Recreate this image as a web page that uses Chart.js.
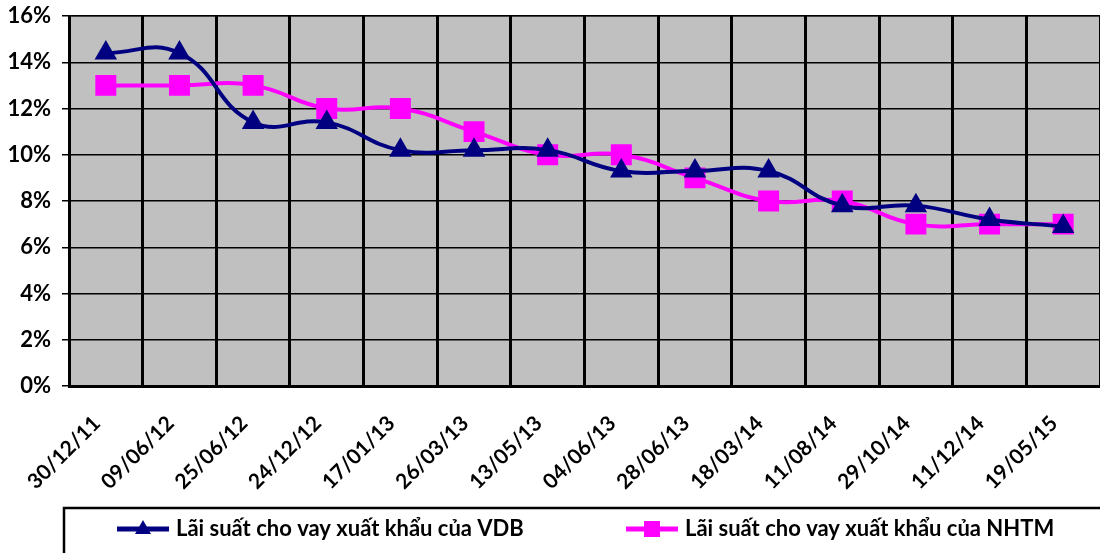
<!DOCTYPE html>
<html><head><meta charset="utf-8">
<script src="https://cdn.jsdelivr.net/npm/chart.js@4"></script>
<style>html,body{margin:0;padding:0;background:#fff;overflow:hidden}#w{width:1100px;height:553px}</style>
</head><body><div id="w"><canvas id="c"></canvas></div>
<script>
const categories = ["30/12/11","09/06/12","25/06/12","24/12/12","17/01/13","26/03/13","13/05/13","04/06/13","28/06/13","18/03/14","11/08/14","29/10/14","11/12/14","19/05/15"];
const vdb = [14.4,14.4,11.4,11.4,10.2,10.2,10.2,9.3,9.3,9.3,7.8,7.8,7.2,6.9];
const nhtm = [13,13,13,12,12,11,10,10,9,8,8,7,7,7];
const seriesNames = ["Lãi suất cho vay xuất khẩu của VDB","Lãi suất cho vay xuất khẩu của NHTM"];
const FONT = "Lato";

const bgPlugin = {
  id:'bg',
  beforeDraw(chart){
    const {ctx, chartArea:a} = chart;
    ctx.save(); ctx.fillStyle='#C0C0C0';
    ctx.fillRect(a.left,a.top,a.right-a.left,a.bottom-a.top);
    ctx.strokeStyle='#808080'; ctx.lineWidth=2;
    ctx.beginPath(); ctx.moveTo(a.left,a.top); ctx.lineTo(a.right,a.top); ctx.stroke();
    ctx.restore();
  }
};
const legendPlugin = {
  id:'lg',
  afterDraw(chart){
    const ctx = chart.ctx;
    ctx.save();
    ctx.strokeStyle='#000'; ctx.lineWidth=2.5;
    ctx.strokeRect(64,508,1100,100);
    const y=529;
    ctx.strokeStyle='#000080'; ctx.lineWidth=5;
    ctx.beginPath(); ctx.moveTo(117,y); ctx.lineTo(169,y); ctx.stroke();
    ctx.fillStyle='#000080';
    ctx.beginPath(); ctx.moveTo(143,y-9); ctx.lineTo(151,y+5); ctx.lineTo(135,y+5); ctx.closePath(); ctx.fill();
    ctx.strokeStyle='#FF00FF';
    ctx.beginPath(); ctx.moveTo(626,y); ctx.lineTo(678,y); ctx.stroke();
    ctx.fillStyle='#FF00FF'; ctx.fillRect(644,y-8,16,16);
    ctx.fillStyle='#000'; ctx.font='bold 22px '+FONT; ctx.textBaseline='middle';
    ctx.fillText(seriesNames[0],176,y);
    ctx.fillText(seriesNames[1],685,y);
    ctx.restore();
  }
};

new Chart(document.getElementById('c'),{
  type:'line',
  data:{labels:categories,datasets:[
    {label:seriesNames[0],data:vdb,borderColor:'#000080',backgroundColor:'#000080',borderWidth:4,tension:0.45,pointStyle:'triangle',pointRadius:9,pointHoverRadius:9},
    {label:seriesNames[1],data:nhtm,borderColor:'#FF00FF',backgroundColor:'#FF00FF',borderWidth:4,tension:0.45,pointStyle:'rect',pointRadius:12,pointHoverRadius:12}
  ]},
  options:{
    responsive:true,maintainAspectRatio:false,animation:false,
    layout:{autoPadding:false,padding:{top:16,right:0,left:0,bottom:0}},
    plugins:{legend:{display:false},tooltip:{enabled:false}},
    scales:{
      x:{
        offset:true,
        grid:{offset:true,color:'#000',lineWidth:3,drawTicks:false},
        border:{color:'#000',width:3},
        ticks:{color:'#000',font:{family:FONT,weight:'bold',size:21},maxRotation:45,minRotation:45,padding:25,labelOffset:-9,autoSkip:false},
        afterFit(s){s.height=167;s.paddingLeft=0;s.paddingRight=0;}
      },
      y:{
        min:0,max:16,
        grid:{color:'#000',lineWidth:1.5,tickLength:7,drawTicks:true},
        border:{color:'#000',width:2.5},
        ticks:{stepSize:2,color:'#000',font:{family:FONT,weight:'bold',size:22},padding:11,callback:v=>v+'%'},
        afterFit(s){s.width=69;s.paddingTop=0;s.paddingBottom=0;}
      }
    }
  },
  plugins:[bgPlugin,legendPlugin]
});
</script></body></html>
